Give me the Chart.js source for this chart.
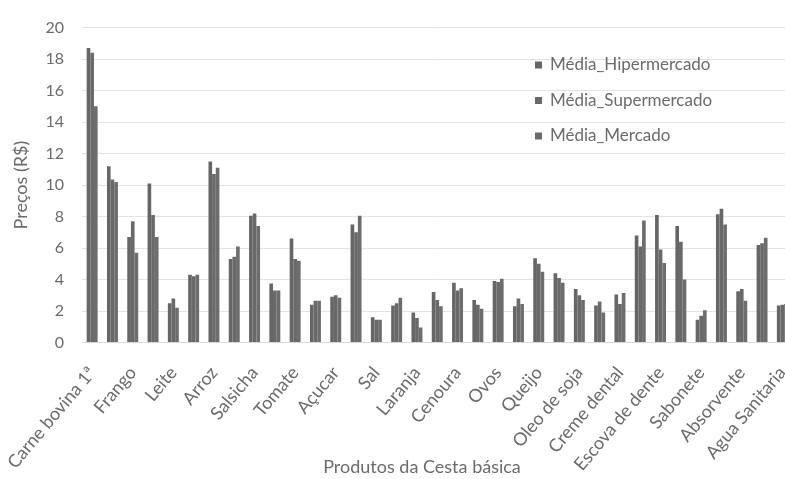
<!DOCTYPE html>
<html>
<head>
<meta charset="utf-8">
<script src="https://cdn.jsdelivr.net/npm/chart.js@4/dist/chart.umd.min.js"></script>
<style>
  html, body { margin: 0; padding: 0; background: #fff; overflow: hidden; width: 785px; height: 479px; }
  #wrap { position: absolute; left: 0; top: 0; width: 800px; height: 479px; }
</style>
</head>
<body>
<div id="wrap"><canvas id="c" width="800" height="479"></canvas></div>
<script>
// Products of the basic basket; only every other product is named on the axis
const produtos = [
  "Carne bovina 1ª", "", "Frango", "", "Leite", "", "Arroz", "", "Salsicha", "",
  "Tomate", "", "Açucar", "", "Sal", "", "Laranja", "", "Cenoura", "",
  "Ovos", "", "Queijo", "", "Oleo de soja", "", "Creme dental", "", "Escova de dente", "",
  "Sabonete", "", "Absorvente", "", "Agua Sanitaria"
];

// Average prices (R$) per store type
const mediaHipermercado = [18.7, 11.2, 6.7, 10.1, 2.5, 4.3, 11.5, 5.3, 8.05, 3.75,
  6.6, 2.4, 2.9, 7.5, 1.6, 2.35, 1.9, 3.2, 3.8, 2.7,
  3.9, 2.3, 5.35, 4.4, 3.4, 2.35, 3.05, 6.8, 8.1, 7.4,
  1.45, 8.15, 3.25, 6.2, 2.35];
const mediaSupermercado = [18.4, 10.35, 7.7, 8.1, 2.8, 4.2, 10.7, 5.45, 8.2, 3.3,
  5.3, 2.65, 3.0, 7.0, 1.45, 2.5, 1.55, 2.7, 3.3, 2.4,
  3.85, 2.8, 5.0, 4.1, 3.0, 2.6, 2.45, 6.1, 5.9, 6.4,
  1.7, 8.5, 3.4, 6.3, 2.4];
const mediaMercado = [15.0, 10.2, 5.7, 6.7, 2.2, 4.3, 11.1, 6.1, 7.4, 3.3,
  5.2, 2.65, 2.85, 8.05, 1.45, 2.85, 0.95, 2.3, 3.45, 2.15,
  4.05, 2.45, 4.5, 3.8, 2.7, 1.9, 3.15, 7.75, 5.05, 4.0,
  2.05, 7.5, 2.65, 6.65, 2.45];

const seriesNames = ["Média_Hipermercado", "Média_Supermercado", "Média_Mercado"];
const yTicks = [0, 2, 4, 6, 8, 10, 12, 14, 16, 18, 20];
const xTitle = "Produtos da Cesta básica";

const FONT = "Lato, 'Open Sans', sans-serif";
const TEXT = "#6b6b6b";
const BAR = ["#666666", "#696969", "#6d6d6d"];

// Vertical legend inside the plot area (upper right) and the category axis title
const annotations = {
  id: "annotations",
  afterDraw(chart) {
    const ctx = chart.ctx;
    const x = 535, y0 = 65, dy = 35.5, box = 7;
    ctx.save();
    ctx.font = "17px " + FONT;
    ctx.textBaseline = "middle";
    ctx.textAlign = "left";
    chart.data.datasets.forEach((ds, i) => {
      const y = y0 + i * dy;
      ctx.fillStyle = ds.backgroundColor;
      ctx.fillRect(x, y - box / 2, box, box);
      ctx.fillStyle = TEXT;
      ctx.fillText(ds.label, x + 15, y);
    });
    ctx.font = "18px " + FONT;
    ctx.textAlign = "center";
    ctx.fillText(xTitle, 422, 467);
    ctx.restore();
  }
};

new Chart(document.getElementById("c"), {
  type: "bar",
  data: {
    labels: produtos,
    datasets: [
      { label: seriesNames[0], data: mediaHipermercado, backgroundColor: BAR[0] },
      { label: seriesNames[1], data: mediaSupermercado, backgroundColor: BAR[1] },
      { label: seriesNames[2], data: mediaMercado, backgroundColor: BAR[2] }
    ]
  },
  options: {
    responsive: false,
    animation: false,
    devicePixelRatio: 1,
    layout: { padding: { top: 17.5, right: 7.5, left: 0, bottom: 0 } },
    datasets: { bar: { categoryPercentage: 0.54, barPercentage: 1.0, borderWidth: 0 } },
    plugins: { legend: { display: false }, tooltip: { enabled: false } },
    scales: {
      x: {
        grid: { display: false, drawTicks: false },
        border: { display: true, color: "#d9d9d9", width: 1 },
        ticks: {
          autoSkip: false, minRotation: 50, maxRotation: 50, padding: 20,
          color: TEXT, font: { family: FONT, size: 18 }
        },
        afterFit(s) { s.height = 136.5; s.paddingLeft = 0; s.paddingRight = 0; }
      },
      y: {
        min: 0, max: 20,
        afterBuildTicks(s) { s.ticks = yTicks.map(v => ({ value: v })); },
        grid: { color: "#e3e3e3", lineWidth: 1, drawTicks: false },
        border: { display: false },
        ticks: { padding: 18, color: TEXT, font: { family: FONT, size: 16 } },
        title: {
          display: true, text: "Preços (R$)", color: TEXT,
          font: { family: FONT, size: 18 }, padding: { top: 10, bottom: 0 }
        },
        afterFit(s) { s.width = 82; }
      }
    }
  },
  plugins: [annotations]
});
</script>
</body>
</html>
